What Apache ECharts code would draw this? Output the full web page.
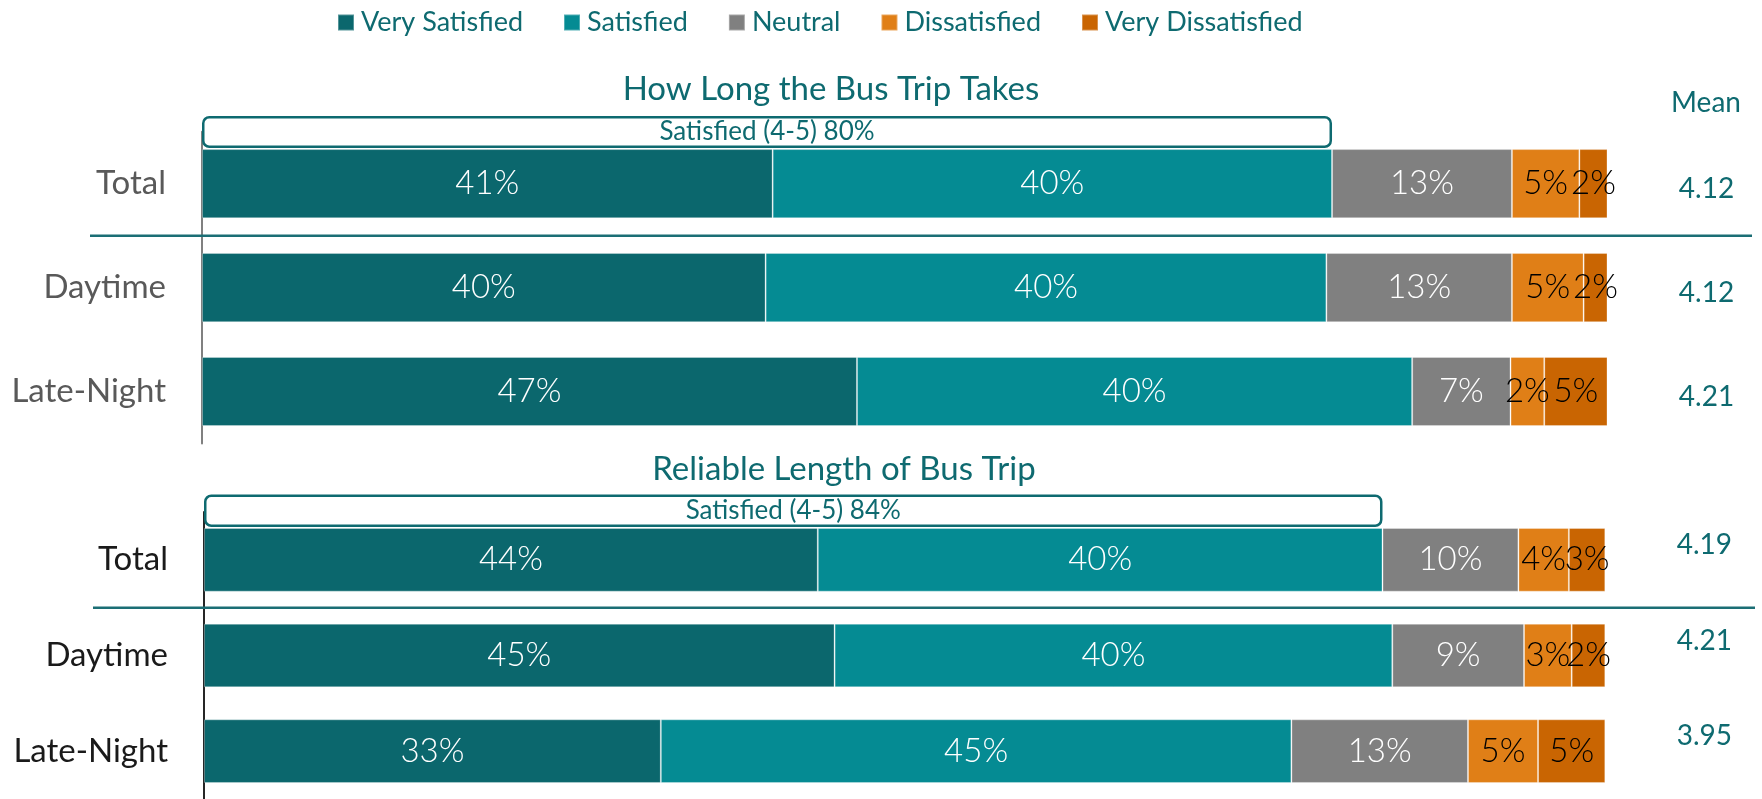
<!DOCTYPE html>
<html>
<head>
<meta charset="utf-8">
<script src="https://cdn.jsdelivr.net/npm/echarts@6/dist/echarts.min.js"></script>
<style>
  html, body { margin: 0; padding: 0; background: #fff; }
  #main { width: 1762px; height: 799px; }
</style>
</head>
<body>
<div id="main"></div>
<script>
  const rows = ['Total', 'Daytime', 'Late-Night'];
  const levels = ['Very Satisfied', 'Satisfied', 'Neutral', 'Dissatisfied', 'Very Dissatisfied'];

  // How Long the Bus Trip Takes (%)
  const veryTop = [40.6, 40.1, 46.6];
  const satTop = [39.8, 39.9, 39.5];
  const neuTop = [12.8, 13.2, 7.0];
  const disTop = [4.8, 5.1, 2.4];
  const vdisTop = [2.0, 1.7, 4.5];
  const meanTop = [4.12, 4.12, 4.21];

  // Reliable Length of Bus Trip (%)
  const veryBot = [43.8, 45.0, 32.6];
  const satBot = [40.3, 39.8, 45.0];
  const neuBot = [9.7, 9.4, 12.6];
  const disBot = [3.6, 3.4, 5.0];
  const vdisBot = [2.6, 2.4, 4.8];
  const meanBot = [4.19, 4.21, 3.95];

  const colors = ['#0b676d', '#058b93', '#808080', '#e07f17', '#c96502'];
  const labelColors = ['#fff', '#fff', '#fff', '#000', '#000'];
  const teal = '#0e6a70';
  const font = 'Lato';

  const topData = [veryTop, satTop, neuTop, disTop, vdisTop];
  const botData = [veryBot, satBot, neuBot, disBot, vdisBot];

  const pct = (p) => Math.round(p.value) + '%';

  const series = [];
  [topData, botData].forEach((block, b) => {
    block.forEach((vals, i) => {
      series.push({
        name: levels[i],
        type: 'bar',
        stack: 'chart' + b,
        xAxisIndex: b,
        yAxisIndex: b * 2,
        barWidth: '66.5%',
        data: vals,
        itemStyle: { color: colors[i], borderColor: 'rgba(255,255,255,0.3)', borderWidth: 1 },
        label: {
          show: true,
          position: 'inside',
          formatter: pct,
          color: labelColors[i],
          fontFamily: font,
          fontWeight: 300,
          fontSize: 33,
        },
        emphasis: { disabled: true },
      });
    });
  });

  // the "Satisfied (4-5)" boxes
  const boxTop = [veryTop[0] + satTop[0]];
  const boxBot = [veryBot[0] + satBot[0]];
  [boxTop, boxBot].forEach((vals, b) => {
    series.push({
      type: 'bar',
      xAxisIndex: 2 + b,
      yAxisIndex: 4 + b,
      barWidth: '100%',
      data: vals,
      itemStyle: { color: '#fff', borderColor: teal, borderWidth: 2.5, borderRadius: 6 },
      label: {
        show: true,
        position: 'inside',
        formatter: (p) => 'Satisfied (4-5) ' + Math.round(p.value) + '%',
        color: teal,
        fontFamily: font,
        fontSize: 26,
      },
      emphasis: { disabled: true },
    });
  });

  const valueAxis = (g) => ({ type: 'value', gridIndex: g, min: 0, max: 100, show: false });

  const catAxis = (g, color, labelColor) => ({
    type: 'category',
    gridIndex: g,
    data: rows,
    inverse: true,
    axisLine: { lineStyle: { color: color, width: 2 } },
    axisTick: { length: 10, lineStyle: { color: color, width: 2 } },
    axisLabel: { margin: 36, color: labelColor, fontFamily: font, fontSize: 33 },
  });

  // mean column sits a little off the bar centres, nudged with align + lineHeight
  const meanAxis = (g, means, vAlign, lh) => ({
    type: 'category',
    gridIndex: g,
    data: rows,
    inverse: true,
    position: 'right',
    axisLine: { show: false },
    axisTick: { show: false },
    axisLabel: {
      margin: 99,
      align: 'center',
      verticalAlign: vAlign,
      lineHeight: lh,
      color: teal,
      fontFamily: font,
      fontSize: 28,
      formatter: (v, i) => means[i].toFixed(2),
    },
  });

  const chart = echarts.init(document.getElementById('main'));
  chart.setOption({
    animation: false,
    legend: {
      data: levels,
      left: 332,
      top: 4,
      icon: 'rect',
      itemWidth: 16,
      itemHeight: 16,
      itemGap: 40,
      selectedMode: false,
      textStyle: { color: teal, fontFamily: font, fontSize: 27, padding: [0, 0, 0, 2] },
    },
    grid: [
      { left: 202, right: 154.5, top: 131.7, height: 311.8 },
      { left: 204, right: 156.7, top: 512, height: 288 },
      { left: 202, right: 154.5, top: 116, height: 32 },
      { left: 204, right: 156.7, top: 494.5, height: 32.5 },
    ],
    xAxis: [valueAxis(0), valueAxis(1), valueAxis(2), valueAxis(3)],
    yAxis: [
      catAxis(0, '#808080', '#595959'),
      meanAxis(0, meanTop, 'top', 10),
      catAxis(1, '#262626', '#1a1a1a'),
      meanAxis(1, meanBot, 'bottom', 30),
      { type: 'category', gridIndex: 2, data: ['Total'], show: false },
      { type: 'category', gridIndex: 3, data: ['Total'], show: false },
    ],
    series: series,
  });

  // separators between Total and the split rows
  const sepY = (axis) =>
    (chart.convertToPixel({ yAxisIndex: axis }, 'Total') + chart.convertToPixel({ yAxisIndex: axis }, 'Daytime')) / 2;
  const y1 = sepY(0);
  const y2 = sepY(2);
  const titleStyle = { fill: teal, font: '33px Lato', textAlign: 'center', textVerticalAlign: 'middle' };

  chart.setOption({
    graphic: [
      { type: 'line', shape: { x1: 90, y1: y1, x2: 1752, y2: y1 }, style: { stroke: '#1b6e75', lineWidth: 2.5 }, z: 10 },
      { type: 'line', shape: { x1: 93, y1: y2, x2: 1755, y2: y2 }, style: { stroke: '#1b6e75', lineWidth: 2.5 }, z: 10 },
      { type: 'text', x: 831, y: 89, style: Object.assign({ text: 'How Long the Bus Trip Takes' }, titleStyle) },
      { type: 'text', x: 844, y: 469, style: Object.assign({ text: 'Reliable Length of Bus Trip' }, titleStyle) },
      {
        type: 'text', x: 1706, y: 103,
        style: { text: 'Mean', fill: teal, font: '28px Lato', textAlign: 'center', textVerticalAlign: 'middle' },
      },
    ],
  });
</script>
</body>
</html>
